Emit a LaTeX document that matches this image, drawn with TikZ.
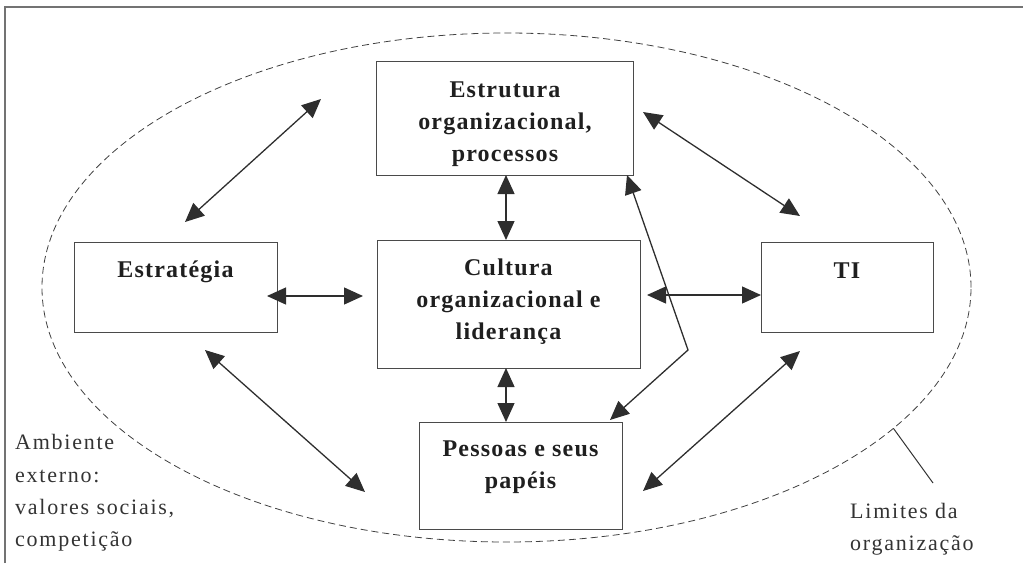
\documentclass[tikz,border=0pt]{standalone}
\usepackage{fontspec}
\setmainfont{Liberation Serif}
\newfontfamily\boxfont[LetterSpace=5]{Liberation Serif}
\newfontfamily\lblfont[LetterSpace=8]{Liberation Serif}
\usetikzlibrary{arrows.meta,calc,shapes.geometric}
\definecolor{ink}{HTML}{2E2E2E}
\definecolor{edge}{HTML}{4A4A4A}
\tikzset{
  boxshape/.style={draw=edge, line width=1pt, rectangle, inner sep=0pt, outer sep=0pt},
  boxtext/.style={align=center, inner sep=0pt, text=black!88, font=\boxfont\bfseries\fontsize{24}{32}\selectfont},
  sidetext/.style={align=left, inner sep=0pt, text=black!80, font=\lblfont\fontsize{22}{32.3}\selectfont},
  link/.style={draw=ink, line width=1.3pt, {Triangle[length=19pt,width=17pt]}-{Triangle[length=19pt,width=17pt]}},
}
\begin{document}
\begin{tikzpicture}[x=1pt,y=-1pt]
\useasboundingbox (0,0) rectangle (1023,563);
% frame
\draw[black!55, line width=1.2pt] (5,563) -- (5,7) -- (1023,7);
% organisation boundary
\node[ellipse, draw=black!75, dash pattern=on 7pt off 4pt, line width=0.8pt,
      minimum width=929pt, minimum height=509pt, inner sep=0pt, outer sep=0pt] (org) at (506.5,287.5) {};
% boxes
\node[boxshape, minimum width=257pt, minimum height=114pt] (estru) at (504.5,118) {};
\node[boxshape, minimum width=203pt, minimum height=90pt] (estrat) at (175.5,287) {};
\node[boxshape, minimum width=263pt, minimum height=128pt] (cult) at (508.5,304) {};
\node[boxshape, minimum width=172pt, minimum height=90pt] (ti) at (847,287) {};
\node[boxshape, minimum width=203pt, minimum height=107pt] (pess) at (520.5,475.5) {};
% box texts
\node[boxtext] (estrut) at (505,124) {Estrutura\\organizacional,\\processos};
\node[boxtext] (estratt) at (175.5,272) {Estratégia};
\node[boxtext] (cultt) at (508.5,302) {Cultura\\organizacional e\\liderança};
\node[boxtext] (tit) at (847,271) {TI};
\node[boxtext] (pesst) at (520.5,467) {Pessoas e seus\\papéis};
% side labels
\node[sidetext, anchor=north west] (amb) at (15,434.5) {Ambiente\\externo:\\valores sociais,\\competição};
\node[sidetext, anchor=north west] (lim) at (850,503) {Limites da\\organização};
% connectors
\draw[link] ($(estrat.north)+(9.5,-20)$) -- ($(estru.west)+(-55,-19)$);
\draw[link] ($(estru.east)+(10,-6)$) -- ($(ti.north)+(-47,-26)$);
\draw[link] ($(estru.south)+(1.5,0)$) -- ($(cult.north)+(-2.5,0)$);
\draw[link] ($(estrat.east)+(-10,9)$) -- ($(cult.west)+(-14,-8)$);
\draw[link] ($(cult.east)+(7,-9)$) -- ($(ti.west)+(0,8)$);
\draw[link] ($(cult.south)+(-2.5,0)$) -- ($(pess.north)+(-14.5,0)$);
\draw[link] ($(estrat.south)+(29.5,18)$) -- ($(pess.west)+(-54,16.5)$);
\draw[link] ($(ti.south)+(-47,19)$) -- ($(pess.east)+(21,15.5)$);
\coordinate (bend) at (688,350);
\draw[link] ($(pess.north east)+(-12,-2)$) -- (bend) -- ($(estru.south east)+(-6,0)$);
% pointer to boundary
\draw[black!80, line width=1pt] (org.-20.5) -- ($(lim.north west)+(83,-20)$);
\end{tikzpicture}
\end{document}
